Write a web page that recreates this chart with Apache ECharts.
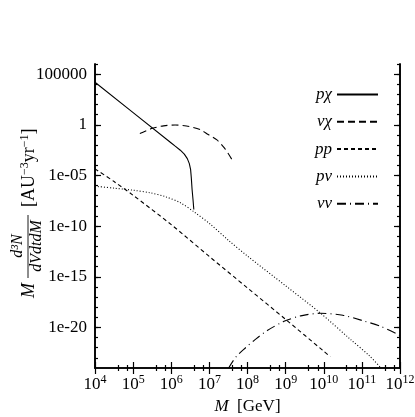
<!DOCTYPE html>
<html><head><meta charset="utf-8">
<script src="https://cdn.jsdelivr.net/npm/echarts@6/dist/echarts.min.js"></script>
<style>html,body{margin:0;padding:0;background:#fff}#c{width:415px;height:417px}</style>
</head><body><div id="c"></div>
<script>
// ---- data ----
const pchiM = [1e4, 1e5, 1e6, 1.27e6, 1.73e6, 2.2e6, 2.64e6, 2.98e6, 3.22e6, 3.36e6, 3.52e6, 3.72e6, 3.91e6];
const pchiN = [1.6e4, 16, 1.6e-2, 7.8e-3, 3.1e-3, 1.29e-3, 4.6e-4, 1.48e-4, 3.8e-5, 5.8e-6, 4.1e-7, 4.3e-8, 4.4e-9];

const nuchiM = [1.5e5, 3.2e5, 6.3e5, 1.26e6, 2.5e6, 5.75e6, 9.3e6, 1.58e7, 2.5e7, 4e7];
const nuchiN = [0.14, 0.45, 0.79, 0.95, 0.76, 0.33, 0.11, 0.032, 5e-3, 3.2e-4];

const ppM = [1e4, 3.16e4, 1e5, 1e6, 1e7, 1e8, 1e9, 1e10, 1.48e10];
const ppN = [4.5e-5, 2.5e-6, 1.1e-7, 1.4e-10, 1e-13, 7.9e-17, 6.3e-20, 4.5e-23, 1.26e-23];

const pnuM = [1e4, 3.16e4, 1e5, 2.8e5, 7.1e5, 1.74e6, 4e6, 1.07e7, 3.16e7, 1e8, 1e9, 8.3e9, 5.1e10, 1.58e11, 3.16e11];
const pnuN = [8.7e-7, 5.6e-7, 3.5e-7, 1.95e-7, 7.9e-8, 2e-8, 2.5e-9, 1.5e-10, 4e-12, 1.1e-13, 1.3e-16, 2.5e-19, 6.3e-22, 1.6e-23, 1e-24];

const nunuM = [3.2e7, 5e7, 8.9e7, 1.58e8, 3.3e8, 9.1e8, 2.5e9, 8.3e9, 3.16e10, 1e11, 3.16e11, 1e12];
const nunuN = [1e-24, 1.26e-23, 1e-22, 6.3e-22, 5e-21, 4e-20, 1.4e-19, 2.5e-19, 1.6e-19, 5e-20, 1.26e-20, 1.6e-21];

const seriesNames = ['pχ', 'νχ', 'pp', 'pν', 'νν'];
const yMajorTicks = [1e-20, 1e-15, 1e-10, 1e-5, 1, 1e5];

// ---- build ----
const FONT = 'Liberation Serif';
const zip = (a, b) => a.map((v, i) => [v, b[i]]);
function yLabel(v) {
  const e = Math.round(Math.log10(v));
  if (e % 5 !== 0) return '';
  if (e >= 0) return String(Math.pow(10, e));
  const n = -e;
  return '1e-' + (n < 10 ? '0' + n : n);
}
const grid = {left: 95, top: 64, width: 305, height: 304, outerBoundsMode: 'none', containLabel: false};
const axisLine = {show: true, lineStyle: {color: '#000', width: 1.6}};
function xAx(pos, labels) {
  return {
    type: 'log', logBase: 10, min: 1e4, max: 1e12, interval: 1, position: pos,
    axisLine: axisLine,
    axisTick: {show: true, inside: true, length: 6, lineStyle: {color: '#000', width: 1.2}},
    minorTick: {show: true, splitNumber: 3, length: 3, lineStyle: {color: '#000', width: 1.2}},
    splitLine: {show: false},
    axisLabel: labels ? {
      show: true, margin: 6, fontFamily: FONT, color: '#000',
      formatter: v => '{b|10}{s|' + Math.round(Math.log10(v)) + '}',
      rich: {b: {fontSize: 17, fontFamily: FONT, color: '#000'},
             s: {fontSize: 12, fontFamily: FONT, color: '#000', padding: [0, 0, 9, 0]}}
    } : {show: false},
    name: labels ? '{i|M}  [GeV]' : '',
    nameLocation: 'middle', nameGap: 30,
    nameTextStyle: {fontFamily: FONT, fontSize: 17, color: '#000',
      rich: {i: {fontStyle: 'italic', fontFamily: FONT, fontSize: 17, color: '#000'}}}
  };
}
function yAx(pos, major, labels) {
  const o = {
    type: 'log', logBase: 10, min: 1e-24, max: 1e6, interval: 1, position: pos,
    axisLine: axisLine, splitLine: {show: false},
    axisTick: {show: true, inside: true, length: major ? 6 : 3, lineStyle: {color: '#000', width: 1.2}},
    axisLabel: {show: false}
  };
  if (major) o.axisTick.customValues = yMajorTicks;
  if (labels) {
    o.axisLabel = {show: true, margin: 8, fontFamily: FONT, fontSize: 17, color: '#000',
      customValues: yMajorTicks, formatter: yLabel};
  }
  return o;
}
const styles = [
  {type: 'solid'},
  {type: [7, 4]},
  {type: [4, 3]},
  {type: [1, 2]},
  {type: [9, 4, 1, 4]}
];
const datas = [zip(pchiM, pchiN), zip(nuchiM, nuchiN), zip(ppM, ppN), zip(pnuM, pnuN), zip(nunuM, nunuN)];
const series = seriesNames.map((n, i) => ({
  name: n, type: 'line', data: datas[i], symbol: 'none', showSymbol: false,
  smooth: (i === 0) ? false : 0.3,
  lineStyle: Object.assign({color: '#000', width: 1.1}, styles[i]),
  itemStyle: {color: '#000'}, silent: true, animation: false
}));

const chart = echarts.init(document.getElementById('c'), null, {renderer: 'canvas'});
chart.setOption({
  animation: false,
  backgroundColor: '#fff',
  grid: grid,
  xAxis: [xAx('bottom', true), xAx('top', false)],
  yAxis: [yAx('left', false, false), yAx('left', true, true), yAx('right', false, false), yAx('right', true, false)],
  legend: {
    data: seriesNames, orient: 'vertical', right: 36, top: 86, align: 'right',
    itemWidth: 41, itemHeight: 14, itemGap: 10.3, padding: 0,
    itemStyle: {opacity: 0},
    textStyle: {fontFamily: FONT, fontStyle: 'italic', fontSize: 17, color: '#000'},
    selectedMode: false
  },
  series: series,
  graphic: [{
    type: 'group', x: 29, y: 211, rotation: Math.PI / 2,
    children: [
      {type: 'text', x: -87, y: 0, style: {text: 'M', font: 'italic 18px "Liberation Serif"', fill: '#000', textAlign: 'left', textVerticalAlign: 'middle'}},
      {type: 'text', x: -35, y: -11, style: {text: 'd³N', font: 'italic 16px "Liberation Serif"', fill: '#000', textAlign: 'center', textVerticalAlign: 'middle'}},
      {type: 'line', shape: {x1: -67, y1: -1, x2: -4, y2: -1}, style: {stroke: '#000', lineWidth: 0.9}},
      {type: 'text', x: -35, y: 8, style: {text: 'dVdtdM', font: 'italic 16px "Liberation Serif"', fill: '#000', textAlign: 'center', textVerticalAlign: 'middle'}},
      {type: 'text', x: 4, y: 0, style: {
        text: '[AU{s|−3}yr{s|−1}]', font: '18px "Liberation Serif"', fill: '#000', textAlign: 'left', textVerticalAlign: 'middle',
        rich: {s: {fontSize: 12, fontFamily: FONT, fill: '#000', padding: [0, 0, 9, 0]}}}}
    ]
  }]
});
</script>
</body></html>
